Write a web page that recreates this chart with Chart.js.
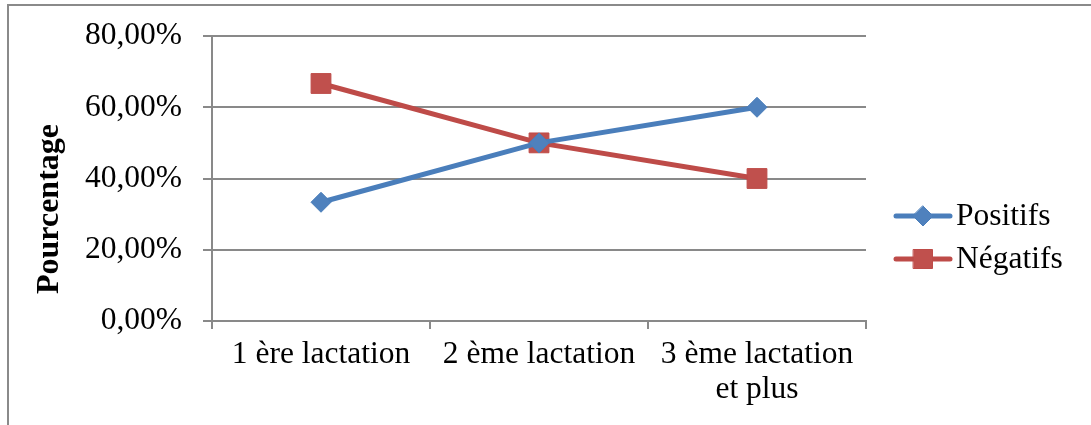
<!DOCTYPE html>
<html>
<head>
<meta charset="utf-8">
<script src="https://cdn.jsdelivr.net/npm/chart.js@4/dist/chart.umd.min.js"></script>
<style>
  html, body { margin: 0; padding: 0; background: #fff; }
  #wrap { width: 1091px; height: 425px; }
</style>
</head>
<body>
<div id="wrap"><canvas id="chart" width="1091" height="425"></canvas></div>
<script>
// chart data
const categories = ['1 ère lactation', '2 ème lactation', ['3 ème lactation', 'et plus']];
const positifs = [33.33, 50, 60];
const negatifs = [66.67, 50, 40];
const yTicks = [0, 20, 40, 60, 80];
const yTitle = 'Pourcentage';

const FONT = "'Liberation Serif', 'Times New Roman', serif";
const FONT_SIZE = 31.5;
const gridColor = '#898989';

// Frame around the whole chart (only top and left edges visible)
const framePlugin = {
    id: 'frame',
    beforeDraw(chart) {
        const ctx = chart.ctx;
        ctx.save();
        ctx.fillStyle = '#fff';
        ctx.fillRect(0, 0, chart.width, chart.height);
        ctx.strokeStyle = '#8a8a8a';
        ctx.lineWidth = 2;
        ctx.beginPath();
        ctx.moveTo(8, chart.height);
        ctx.lineTo(8, 5);
        ctx.lineTo(chart.width, 5);
        ctx.stroke();
        ctx.restore();
    }
};

// Rotated bold axis title, centred like the original
const titlePlugin = {
    id: 'ytitle',
    afterDraw(chart) {
        const ctx = chart.ctx;
        ctx.save();
        ctx.translate(50, 209);
        ctx.rotate(-Math.PI / 2);
        ctx.font = 'bold 32px ' + FONT;
        ctx.fillStyle = '#000';
        ctx.textAlign = 'center';
        ctx.textBaseline = 'middle';
        ctx.fillText(yTitle, 0, 0);
        ctx.restore();
    }
};

// Legend with line + marker, Excel style
const legendPlugin = {
    id: 'xlLegend',
    afterDraw(chart) {
        const ctx = chart.ctx;
        const rows = [216, 259];
        chart.data.datasets.forEach((ds, i) => {
            const y = rows[i];
            ctx.save();
            ctx.strokeStyle = ds.borderColor;
            ctx.lineWidth = 5;
            ctx.lineCap = 'round';
            ctx.beginPath();
            ctx.moveTo(896, y);
            ctx.lineTo(950, y);
            ctx.stroke();
            ctx.fillStyle = ds.pointBackgroundColor;
            ctx.strokeStyle = ds.pointBorderColor;
            ctx.lineWidth = 1;
            ctx.beginPath();
            if (ds.pointStyle === 'rect') {
                ctx.rect(923 - 9.5, y - 9.5, 19, 19);
            } else {
                ctx.moveTo(923, y - 10); ctx.lineTo(933, y); ctx.lineTo(923, y + 10); ctx.lineTo(913, y); ctx.closePath();
            }
            ctx.fill();
            ctx.stroke();
            ctx.fillStyle = '#000';
            ctx.font = FONT_SIZE + 'px ' + FONT;
            ctx.textAlign = 'left';
            ctx.textBaseline = 'middle';
            ctx.fillText(ds.label, 956, y + 1);
            ctx.restore();
        });
    }
};

var context = document.getElementById('chart').getContext('2d');
var chart = new Chart(context, {
    type: 'line',
    data: {
        labels: categories,
        datasets: [
            {
                label: 'Positifs',
                data: positifs,
                borderColor: '#4A7EBB',
                backgroundColor: '#4F81BD',
                pointBackgroundColor: '#4F81BD',
                pointBorderColor: '#4A7EBB',
                borderWidth: 5,
                pointStyle: 'rectRot',
                pointRadius: 10,
                pointBorderWidth: 1,
                fill: false,
                tension: 0
            },
            {
                label: 'Négatifs',
                data: negatifs,
                borderColor: '#BE4B48',
                backgroundColor: '#C0504D',
                pointBackgroundColor: '#C0504D',
                pointBorderColor: '#BE4B48',
                borderWidth: 5,
                pointStyle: 'rect',
                pointRadius: 14,
                pointBorderWidth: 1,
                fill: false,
                tension: 0
            }
        ]
    },
    options: {
        responsive: false,
        animation: false,
        devicePixelRatio: 1,
        layout: { padding: { left: 0, top: 36, right: 225, bottom: 0 } },
        plugins: {
            legend: { display: false },
            tooltip: { enabled: false }
        },
        scales: {
            x: {
                offset: true,
                grid: {
                    offset: true,
                    drawOnChartArea: false,
                    color: gridColor,
                    lineWidth: 2,
                    tickLength: 8
                },
                border: { color: gridColor, width: 2 },
                ticks: {
                    color: '#000',
                    padding: 8,
                    maxRotation: 0,
                    autoSkip: false,
                    font: { family: FONT, size: FONT_SIZE, lineHeight: 1.11 }
                },
                afterFit(scale) {
                    scale.height = 425 - 321;
                    scale.paddingLeft = 0;
                    scale.paddingRight = 0;
                }
            },
            y: {
                min: 0,
                max: 80,
                afterBuildTicks(scale) { scale.ticks = yTicks.map(v => ({ value: v })); },
                grid: {
                    color: gridColor,
                    lineWidth: 2,
                    tickLength: 9
                },
                border: { color: gridColor, width: 2 },
                ticks: {
                    color: '#000',
                    padding: 21,
                    font: { family: FONT, size: FONT_SIZE },
                    callback: v => v.toFixed(2).replace('.', ',') + '%'
                },
                afterFit(scale) {
                    scale.width = 212;
                    scale.paddingTop = 0;
                    scale.paddingBottom = 0;
                }
            }
        }
    },
    plugins: [framePlugin, titlePlugin, legendPlugin]
});
</script>
</body>
</html>
